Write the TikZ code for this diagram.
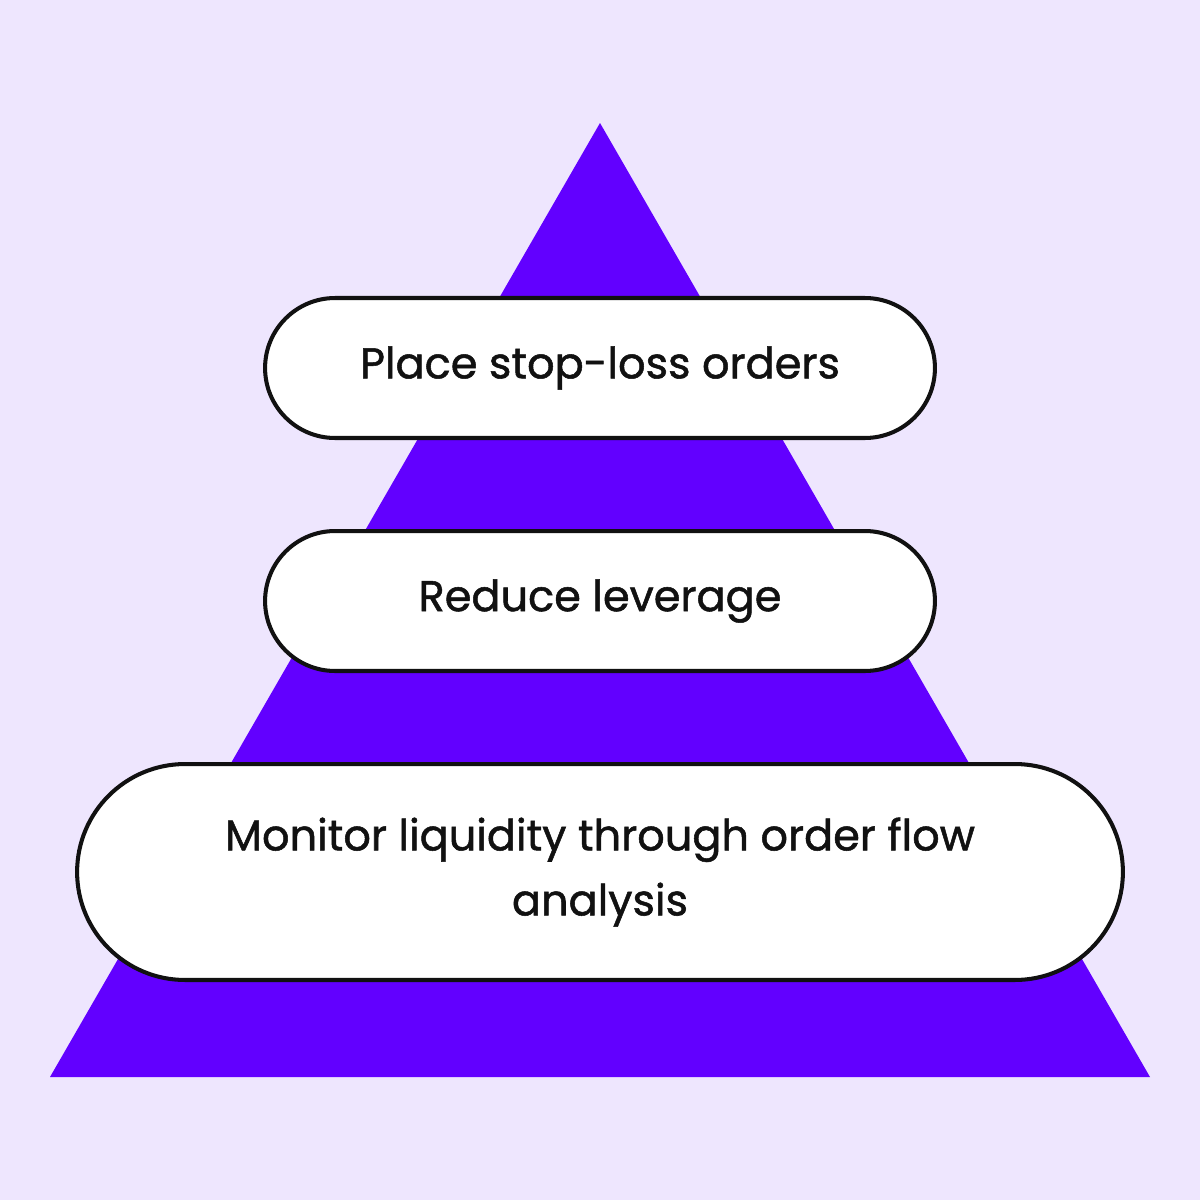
\documentclass[tikz,border=0pt]{standalone}
\usepackage{fontspec}
\setmainfont{Poppins}[FakeBold=1.2]
\usetikzlibrary{positioning}
\definecolor{lavender}{HTML}{EEE6FE}
\definecolor{violet}{HTML}{6200FF}
\definecolor{ink}{HTML}{111111}

\begin{document}
\begin{tikzpicture}[x=0.02cm, y=-0.02cm,
  pill/.style={draw=ink, line width=2.3pt, fill=white, text=ink, align=center,
    font=\fontsize{24.5}{37}\selectfont, inner sep=0pt}]
  % Background
  \fill[lavender] (0, 0) rectangle (1200, 1200);
  \useasboundingbox (0, 0) rectangle (1200, 1200);

  % Pyramid
  \coordinate (apex) at (600, 123);
  \coordinate (bl) at (50, 1077);
  \coordinate (br) at (1150, 1077);
  \fill[violet] (apex) -- (br) -- (bl) -- cycle;

  % Levels
  \node[pill, minimum width=13.4cm, minimum height=2.8cm, rounded corners=1.4cm]
    (stop) at (600, 368) {Place stop-loss orders};
  \node[pill, minimum width=13.4cm, minimum height=2.8cm, rounded corners=1.4cm]
    (lev) at (600, 601) {Reduce leverage};
  \node[pill, minimum width=20.92cm, minimum height=4.32cm, rounded corners=2.16cm]
    (liq) at (600, 872) {Monitor liquidity through order flow\\analysis};
\end{tikzpicture}
\end{document}
